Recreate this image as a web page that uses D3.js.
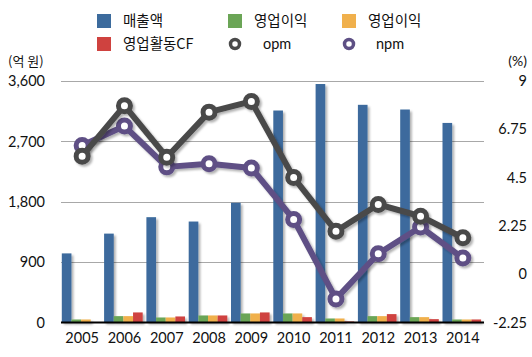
<!DOCTYPE html>
<html><head><meta charset="utf-8">
<script src="https://cdn.jsdelivr.net/npm/d3@7"></script>
<style>
body{margin:0;background:#fff;}
text{font-family:Lato,"Noto Sans CJK KR",sans-serif;}
.kr{font-family:"Noto Sans CJK KR",sans-serif;}
</style></head><body>
<svg id="c" width="532" height="357"></svg>
<script>
const years = ["2005","2006","2007","2008","2009","2010","2011","2012","2013","2014"];
const sales = [1030,1325,1570,1505,1785,3160,3555,3245,3175,2975];
const opProfit = [45,95,75,105,135,135,60,95,80,45];
const opProfit2 = [45,95,75,105,135,135,60,95,80,45];
const opCF = [0,150,90,105,150,80,15,125,50,45];
const opm = [5.5,7.85,5.45,7.55,8.05,4.5,2.0,3.25,2.7,1.7];
const npm = [6.0,6.9,5.0,5.15,4.95,2.55,-1.15,0.95,2.2,0.75];
const leftTicks = [0,900,1800,2700,3600];
const rightTicks = [-2.25,0,2.25,4.5,6.75,9];
const barSeries = [sales, opProfit, opProfit2, opCF];
const barColors = ["#3c6b9d","#6ba556","#f0b04c","#cf423f"];
const legendNames = ["매출액","영업이익","영업이익","영업활동CF","opm","npm"];

const svg = d3.select("#c");
const defs = svg.append("defs");
const f = defs.append("filter").attr("id","sh").attr("x","-20%").attr("y","-20%").attr("width","150%").attr("height","150%");
f.append("feDropShadow").attr("dx",2).attr("dy",2).attr("stdDeviation",1.2).attr("flood-color","#000").attr("flood-opacity",0.3);

const x0 = d3.scaleBand().domain(years).range([61,484]).padding(0);
const x1 = d3.scaleBand().domain(d3.range(4)).range([0.8,39.4]).padding(0);
const yL = d3.scaleLinear().domain([0,3600]).range([322.5,81]);
const yR = d3.scaleLinear().domain([-2.25,9]).range([322.5,81]);

// grid
svg.append("g").selectAll("line").data(leftTicks.filter(d=>d>0)).join("line")
  .attr("x1",61).attr("x2",484).attr("y1",d=>Math.round(yL(d))+0.5).attr("y2",d=>Math.round(yL(d))+0.5)
  .attr("stroke","#a8a8a8").attr("stroke-width",1);

// left axis
const axL = svg.append("g").attr("transform","translate(45,0)")
  .call(d3.axisLeft(yL).tickValues(leftTicks).tickFormat(d3.format(",")).tickSize(0).tickPadding(0));
axL.select(".domain").remove();
axL.selectAll("text").attr("font-size",14.5).attr("fill","#111").attr("font-family","Lato");

// right axis
const axR = svg.append("g").attr("transform","translate(527,0)")
  .call(d3.axisLeft(yR).tickValues(rightTicks).tickFormat(d=>String(d)).tickSize(0).tickPadding(0));
axR.select(".domain").remove();
axR.selectAll("text").attr("font-size",14.5).attr("fill","#111").attr("font-family","Lato");

svg.append("text").attr("class","kr").attr("x",8).attr("y",66).attr("font-size",13).attr("fill","#111").text("(억 원)");
svg.append("text").attr("x",527).attr("y",66).attr("text-anchor","end").attr("font-size",14).attr("fill","#111").text("(%)");

// bars
const gb = svg.append("g").attr("filter","url(#sh)");
barSeries.forEach((ser,i)=>{
  gb.append("g").selectAll("rect").data(ser.map((v,j)=>({v,y:years[j]}))).join("rect")
    .attr("x",d=>x0(d.y)+x1(i)).attr("width",x1.bandwidth())
    .attr("y",d=>yL(d.v)).attr("height",d=>yL(0)-yL(d.v))
    .attr("fill",barColors[i]);
});

// baseline
svg.append("line").attr("x1",61).attr("x2",484).attr("y1",322.5).attr("y2",322.5).attr("stroke","#000").attr("stroke-width",2);

// x axis labels
const axX = svg.append("g").attr("transform","translate(0,330)")
  .call(d3.axisBottom(x0).tickSize(0).tickPadding(0));
axX.select(".domain").remove();
axX.selectAll("text").attr("font-size",14.5).attr("fill","#111").attr("dy","0.9em").attr("font-family","Lato");

// lines
const line = d3.line().x((d,i)=>x0(years[i])+x0.bandwidth()/2).y(d=>yR(d));
function drawLine(data,color){
  const g = svg.append("g").attr("filter","url(#sh)");
  g.append("path").datum(data).attr("d",line).attr("fill","none").attr("stroke",color).attr("stroke-width",6).attr("stroke-linejoin","round");
  g.selectAll("circle").data(data).join("circle")
    .attr("cx",(d,i)=>x0(years[i])+x0.bandwidth()/2).attr("cy",d=>yR(d)).attr("r",6)
    .attr("fill","#fff").attr("stroke",color).attr("stroke-width",5);
}
drawLine(npm,"#5e5085");
drawLine(opm,"#4a4a4a");

// legend
const legPos = [[97,14],[228,14],[342,14],[97,37],[228,37],[342,37]];
const lg = svg.append("g");
for(let i=0;i<4;i++){
  lg.append("rect").attr("x",legPos[i][0]).attr("y",legPos[i][1]).attr("width",14).attr("height",14).attr("fill",barColors[i]);
  lg.append("text").attr("class","kr").attr("x",legPos[i][0]+26).attr("y",legPos[i][1]+12).attr("font-size",14.5).attr("fill","#111").text(legendNames[i]);
}
const lineColors = ["#4a4a4a","#5e5085"];
[4,5].forEach((i,k)=>{
  lg.append("circle").attr("cx",legPos[i][0]+7).attr("cy",legPos[i][1]+7).attr("r",4.5).attr("fill","#fff").attr("stroke",lineColors[k]).attr("stroke-width",3.5);
  lg.append("text").attr("x",legPos[i][0]+(k===0?35:34)).attr("y",legPos[i][1]+12).attr("font-size",14.5).attr("fill","#111").attr("font-family","Noto Sans").text(legendNames[i]);
});
</script></body></html>
